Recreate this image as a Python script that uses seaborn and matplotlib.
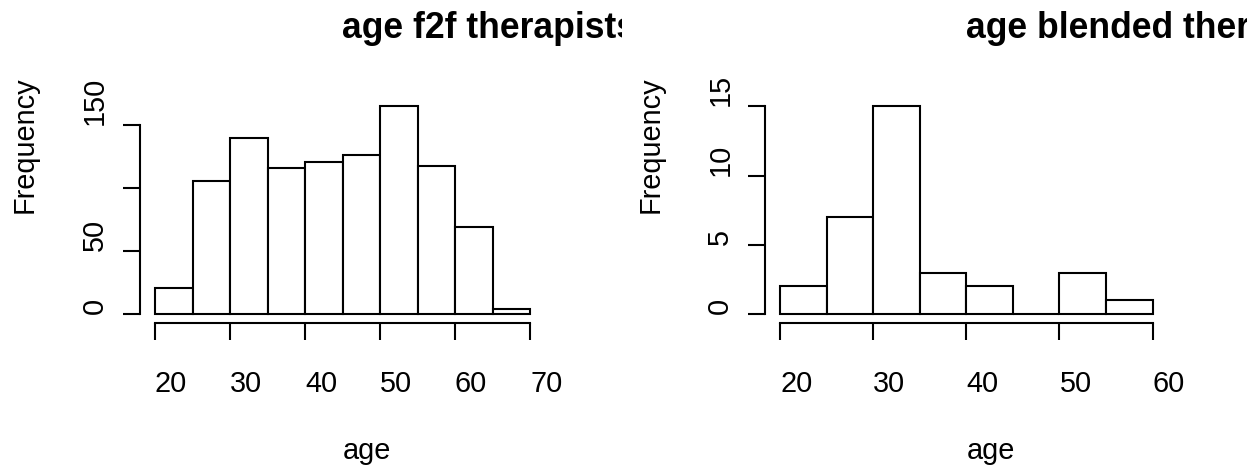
import matplotlib
matplotlib.use("Agg")
import matplotlib.pyplot as plt
import matplotlib.transforms as mtransforms
import pandas as pd
import seaborn as sns

# ---------- data ----------
edges_f2f = [20, 25, 30, 35, 40, 45, 50, 55, 60, 65, 70]
counts_f2f = [21, 106, 140, 116, 121, 126, 165, 118, 69, 4]
xticks_f2f = [20, 30, 40, 50, 60, 70]
yticks_f2f = [0, 50, 100, 150]
ylabels_f2f = ["0", "50", "", "150"]   # R drops the overlapping "100"

edges_blended = [20, 25, 30, 35, 40, 45, 50, 55, 60]
counts_blended = [2, 7, 15, 3, 2, 0, 3, 1]
xticks_blended = [20, 30, 40, 50, 60]
yticks_blended = [0, 5, 10, 15]
ylabels_blended = ["0", "5", "10", "15"]

title_f2f = "age f2f therapists"
title_blended = "age blended therapists"

W, H = 1260, 467
BASE = 20.8   # pt at 100 dpi
LW = 1.5

sns.set_style("white")
plt.rcParams["font.family"] = ["Liberation Sans", "DejaVu Sans"]
plt.rcParams["text.color"] = "black"
plt.rcParams["axes.labelcolor"] = "black"

fig = plt.figure(figsize=(W / 100, H / 100), dpi=100)


def px_axes(x0, y0, x1, y1):
    # pixel box (top-left origin) -> figure fraction axes
    return fig.add_axes([x0 / W, (H - y1) / H, (x1 - x0) / W, (y1 - y0) / H])


def r_hist(ax, edges, counts, xticks, yticks, ylabels, title, clip_px):
    df = pd.DataFrame({
        "age": [(a + b) / 2 for a, b in zip(edges[:-1], edges[1:])],
        "n": counts,
    })
    sns.histplot(data=df, x="age", weights="n", bins=list(edges), ax=ax,
                 color="white", edgecolor="black", linewidth=LW, alpha=1)
    ax.set_xlabel("")
    ax.set_ylabel("")

    # R style 4% extension of the ranges
    xpad = 0.04 * (edges[-1] - edges[0])
    ax.set_xlim(edges[0] - xpad, edges[-1] + xpad)
    ypad = 0.04 * max(counts)
    ax.set_ylim(-ypad, max(counts) + ypad)

    for s in ["top", "right"]:
        ax.spines[s].set_visible(False)
    for s in ["left", "bottom"]:
        ax.spines[s].set_linewidth(LW)
        ax.spines[s].set_color("black")
    ax.spines["left"].set_bounds(yticks[0], yticks[-1])
    ax.spines["bottom"].set_bounds(xticks[0], xticks[-1])

    ax.set_xticks(xticks)
    ax.set_yticks(yticks, ylabels)
    ax.tick_params(direction="out", length=12.2, width=LW, color="black",
                   labelsize=BASE, labelcolor="black")
    ax.tick_params(axis="x", pad=38.2, bottom=True)
    ax.tick_params(axis="y", pad=14.4, left=True)
    for lab in ax.get_xticklabels():
        lab.set_ha("left")
        lab.set_va("baseline")
    for lab in ax.get_yticklabels():
        lab.set_rotation(90)
        lab.set_rotation_mode("anchor")
        lab.set_ha("left")
        lab.set_va("baseline")

    # axis titles, left-anchored like the reference
    tx = mtransforms.offset_copy(ax.transAxes, fig=fig, x=0, y=-136.5, units="dots")
    ax.text(0.5, 0, "age", transform=tx, ha="left", va="baseline",
            fontsize=BASE, color="black")
    ty = mtransforms.offset_copy(ax.transAxes, fig=fig, x=-107, y=-3, units="dots")
    ax.text(0, 0.5, "Frequency", transform=ty, rotation=90, rotation_mode="anchor",
            ha="left", va="baseline", fontsize=BASE, color="black")

    # main title, clipped at the panel edge as in the reference
    tt = mtransforms.offset_copy(ax.transAxes, fig=fig, x=0, y=60, units="dots")
    t = fig.text(0.5, 1, title, transform=tt, ha="left", va="baseline",
                 fontsize=25.6, fontweight="bold", color="black")
    x0, x1 = clip_px
    t.set_clip_box(mtransforms.TransformedBbox(
        mtransforms.Bbox.from_extents(x0 / W, 0, x1 / W, 1), fig.transFigure))
    t.set_clip_on(True)


ax1 = px_axes(140, 98, 545, 322.5)
r_hist(ax1, edges_f2f, counts_f2f, xticks_f2f, yticks_f2f, ylabels_f2f,
       title_f2f, (0, 622))

ax2 = px_axes(765.2, 98, 1167.5, 322.5)
r_hist(ax2, edges_blended, counts_blended, xticks_blended, yticks_blended,
       ylabels_blended, title_blended, (630, 1247))

fig.savefig("out.png", dpi=100)
